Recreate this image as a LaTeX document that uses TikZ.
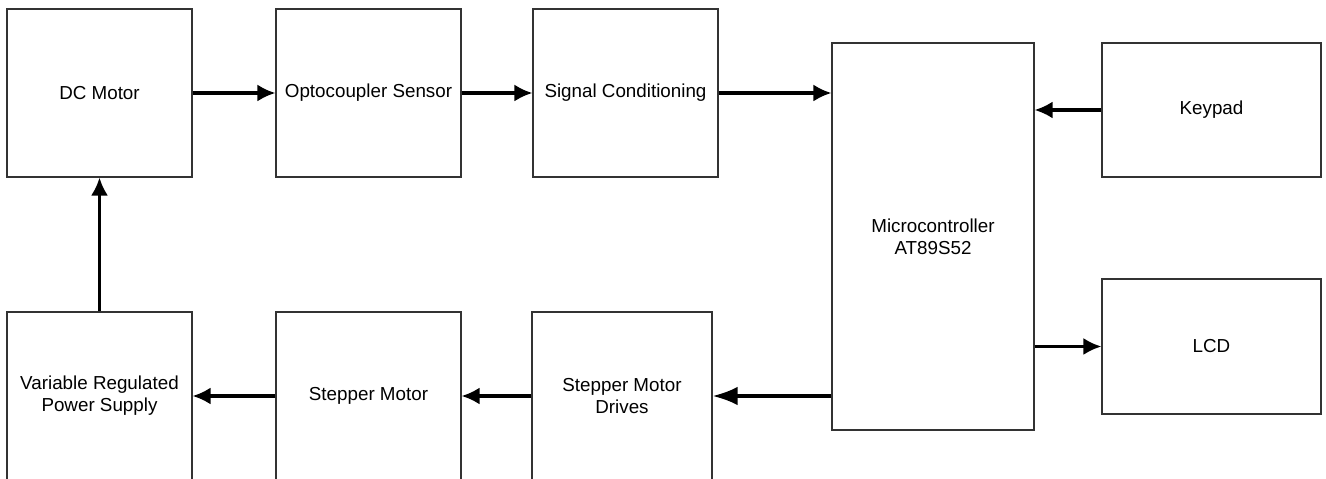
\documentclass[tikz,border=0pt]{standalone}
\usepackage{fontspec}
\setmainfont{Liberation Sans}
\usepackage{tikz}
\usetikzlibrary{arrows.meta,positioning}

\begin{document}
\begin{tikzpicture}[x=0.02cm, y=-0.02cm,
    block/.style={draw=black!80, line width=0.6pt, align=center, font=\fontsize{10.7}{12.6}\selectfont, inner sep=0pt},
    flow/.style={-{Latex[length=0.36cm, width=0.34cm]}, line width=1.8pt},
    bigflow/.style={-{Latex[length=0.5cm, width=0.37cm]}, line width=1.8pt}]
    \useasboundingbox (0,0) rectangle (1326,479);
    % top row
    \node[block, minimum width=185*0.02cm, minimum height=168*0.02cm] (dc) at (99.5,93) {DC Motor};
    \node[block, minimum width=185*0.02cm, minimum height=168*0.02cm] (opto) at (368.5,93) {Optocoupler Sensor};
    \node[block, minimum width=185*0.02cm, minimum height=168*0.02cm] (sig) at (625.5,93) {Signal Conditioning};
    % controller and its peripherals
    \node[block, minimum width=202*0.02cm, minimum height=387*0.02cm] (mcu) at (933,236.5) {Microcontroller\\AT89S52};
    \node[block, minimum width=219*0.02cm, minimum height=134*0.02cm] (key) at (1211.5,110) {Keypad};
    \node[block, minimum width=219*0.02cm, minimum height=135*0.02cm] (lcd) at (1211.5,346.5) {LCD};
    % bottom row
    \node[block, minimum width=185*0.02cm, minimum height=168*0.02cm] (psu) at (99.5,396) {Variable Regulated\\Power Supply};
    \node[block, minimum width=185*0.02cm, minimum height=168*0.02cm] (stm) at (368.5,396) {Stepper Motor};
    \node[block, minimum width=180*0.02cm, minimum height=168*0.02cm] (drv) at (622,396) {Stepper Motor\\Drives};
    % connections
    \draw[flow] (dc.east) -- (opto.west);
    \draw[flow] (opto.east) -- (sig.west);
    \draw[flow] (sig.east) -- (sig.east -| mcu.west);
    \draw[flow] (key.west) -- (key.west -| mcu.east);
    \draw[flow] (lcd.west -| mcu.east) -- (lcd.west);
    \draw[bigflow] (drv.east -| mcu.west) -- (drv.east);
    \draw[flow] (drv.west) -- (stm.east);
    \draw[flow] (stm.west) -- (psu.east);
    \draw[flow] (psu.north) -- (dc.south);
\end{tikzpicture}
\end{document}
